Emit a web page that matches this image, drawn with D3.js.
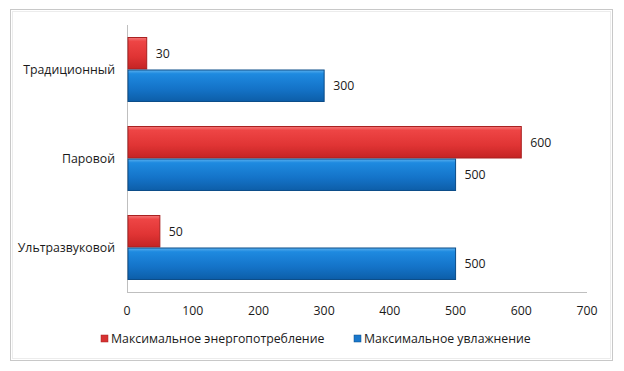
<!DOCTYPE html>
<html>
<head>
<meta charset="utf-8">
<script src="https://cdn.jsdelivr.net/npm/d3@7.8.5/dist/d3.min.js"></script>
<style>
  body { margin: 0; background: #fff; }
  svg { display: block; font-family: "Open Sans", "Noto Sans", sans-serif; }
</style>
</head>
<body>
<svg id="chart" width="624" height="371"></svg>
<script>
// categories top to bottom
const categories = ['Традиционный', 'Паровой', 'Ультразвуковой'];
const seriesNames = ['Максимальное энергопотребление', 'Максимальное увлажнение'];
const energyValues = [30, 600, 50];
const humidValues = [300, 500, 500];
const xTicks = [0, 100, 200, 300, 400, 500, 600, 700];

const svg = d3.select('#chart');
const margin = { top: 25, left: 127, right: 37, bottom: 79 };
const width = 624, height = 371;
const fontSize = '12.3px';

// frame
svg.append('rect')
    .attr('x', 10.5).attr('y', 9.5)
    .attr('width', 602).attr('height', 351)
    .attr('fill', '#fff')
    .attr('stroke', '#c8c8c8')
    .attr('stroke-width', 1);
svg.append('rect')
    .attr('x', 12.5).attr('y', 11.5)
    .attr('width', 598).attr('height', 347)
    .attr('fill', 'none')
    .attr('stroke', '#ececec')
    .attr('stroke-width', 1);

const defs = svg.append('defs');
function grad(id, stops) {
    const g = defs.append('linearGradient').attr('id', id)
        .attr('x1', 0).attr('y1', 0).attr('x2', 0).attr('y2', 1);
    stops.forEach(([o, c]) => g.append('stop').attr('offset', o).attr('stop-color', c));
}
grad('gRed', [[0, '#f47a7a'], [0.12, '#ee4545'], [0.6, '#e03434'], [1, '#c42424']]);
grad('gBlue', [[0, '#5ab0ee'], [0.12, '#1e8ae0'], [0.6, '#1473c8'], [1, '#0d5ea8']]);

const x = d3.scaleLinear()
    .domain([0, 700])
    .range([margin.left, width - margin.right]);

const y = d3.scaleBand()
    .domain(categories)
    .range([margin.top, height - margin.bottom])
    .paddingInner(0.27)
    .paddingOuter(0.135);

const sub = d3.scaleBand()
    .domain([0, 1])
    .range([0, y.bandwidth()]);

// axes lines
svg.append('line')
    .attr('x1', margin.left + 0.5).attr('x2', margin.left + 0.5)
    .attr('y1', margin.top).attr('y2', height - margin.bottom)
    .attr('stroke', '#bfbfbf');
svg.append('line')
    .attr('x1', margin.left).attr('x2', width - margin.right)
    .attr('y1', height - margin.bottom + 0.5).attr('y2', height - margin.bottom + 0.5)
    .attr('stroke', '#bfbfbf');

// x tick labels
svg.append('g').selectAll('text')
    .data(xTicks)
    .enter().append('text')
    .attr('x', d => x(d))
    .attr('y', height - margin.bottom + 23)
    .attr('text-anchor', 'middle')
    .style('font-size', fontSize)
    .style('fill', '#1a1a1a')
    .text(d => d);

// category labels
svg.append('g').selectAll('text')
    .data(categories)
    .enter().append('text')
    .attr('x', margin.left - 12)
    .attr('y', d => y(d) + y.bandwidth() / 2)
    .attr('dy', '0.35em')
    .attr('text-anchor', 'end')
    .style('font-size', fontSize)
    .style('fill', '#1a1a1a')
    .text(d => d);

const series = [
    { name: seriesNames[0], values: energyValues, fill: 'url(#gRed)', stroke: '#a82020', key: '#d63232' },
    { name: seriesNames[1], values: humidValues, fill: 'url(#gBlue)', stroke: '#0b4c88', key: '#1a78cc' }
];

series.forEach((s, si) => {
    const rows = categories.map((c, i) => ({ c, v: s.values[i] }));
    const g = svg.append('g');
    g.selectAll('rect')
        .data(rows)
        .enter().append('rect')
        .attr('x', x(0) + 1)
        .attr('y', d => y(d.c) + sub(si) + 0.5)
        .attr('width', d => x(d.v) - x(0) - 1)
        .attr('height', sub.bandwidth() - 1)
        .attr('fill', s.fill)
        .attr('stroke', s.stroke)
        .attr('stroke-width', 1);
    g.selectAll('text')
        .data(rows)
        .enter().append('text')
        .attr('x', d => x(d.v) + 9)
        .attr('y', d => y(d.c) + sub(si) + sub.bandwidth() / 2)
        .attr('dy', '0.35em')
        .style('font-size', fontSize)
        .style('fill', '#1a1a1a')
        .text(d => d.v);
});

// legend
const legend = svg.append('g');
const legendX = [101, 354];
series.forEach((s, i) => {
    legend.append('rect')
        .attr('x', legendX[i]).attr('y', 335)
        .attr('width', 7).attr('height', 7)
        .attr('fill', s.key)
        .attr('stroke', s.stroke)
        .attr('stroke-width', 0.5);
    legend.append('text')
        .attr('x', legendX[i] + 10)
        .attr('y', 339)
        .attr('dy', '0.35em')
        .style('font-size', fontSize)
        .style('fill', '#1a1a1a')
        .text(s.name);
});
</script>
</body>
</html>
